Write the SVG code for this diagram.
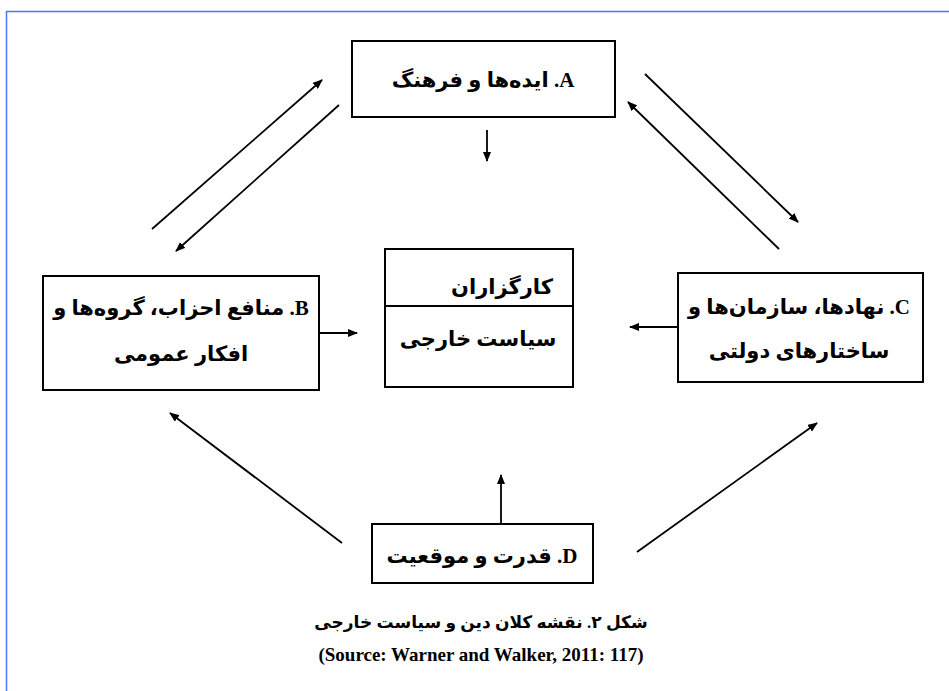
<svg xmlns="http://www.w3.org/2000/svg" width="949" height="691" viewBox="0 0 949 691">
<defs>
<style>
.box{fill:#fff;stroke:#000;stroke-width:2}
.t{font-family:"Liberation Serif","DejaVu Sans",serif;font-weight:bold;font-size:21px;fill:#000}
.cap{font-family:"Liberation Serif","DejaVu Sans",serif;font-weight:bold;font-size:17px;fill:#000}
.src{font-family:"Liberation Serif",serif;font-weight:bold;font-size:19px;fill:#000}
.c line{stroke:#000;stroke-width:1.8;marker-end:url(#ah)}
</style>
<marker id="ah" markerUnits="userSpaceOnUse" markerWidth="10" markerHeight="8" refX="9" refY="4" orient="auto">
<path d="M0,0 L10,4 L0,8 z" fill="#000"/>
</marker>
</defs>
<rect width="949" height="691" fill="#fff"/>
<path d="M6.5,691 V11.5 H949" fill="none" stroke="#4a78ff" stroke-width="1.5"/>
<g id="nodeA">
<rect class="box" x="352" y="41" width="263" height="76"/>
<text class="t" x="483" y="87" text-anchor="middle" direction="rtl">A. ایده‌ها و فرهنگ</text>
</g>
<g id="nodeB">
<rect class="box" x="43" y="276" width="276" height="114"/>
<text class="t" x="181" y="315" text-anchor="middle" direction="rtl">B. منافع احزاب، گروه‌ها و</text>
<text class="t" x="181" y="361" text-anchor="middle" direction="rtl">افکار عمومی</text>
</g>
<g id="nodeCenter">
<rect class="box" x="385" y="249" width="188" height="138"/>
<line x1="385" y1="306" x2="573" y2="306" stroke="#000" stroke-width="2"/>
<text class="t" x="502" y="294" text-anchor="middle" direction="rtl">کارگزاران</text>
<text class="t" x="478" y="346" text-anchor="middle" direction="rtl">سیاست خارجی</text>
</g>
<g id="nodeC">
<rect class="box" x="678" y="273" width="245" height="109"/>
<text class="t" x="799" y="314" text-anchor="middle" direction="rtl">C. نهادها، سازمان‌ها و</text>
<text class="t" x="799" y="358" text-anchor="middle" direction="rtl">ساختارهای دولتی</text>
</g>
<g id="nodeD">
<rect class="box" x="372" y="524" width="221" height="59"/>
<text class="t" x="482" y="563" text-anchor="middle" direction="rtl">D. قدرت و موقعیت</text>
</g>
<g id="connectors" class="c">
<line x1="487" y1="130" x2="487" y2="161"/>
<line x1="320" y1="333" x2="357" y2="333"/>
<line x1="677" y1="327" x2="630" y2="327"/>
<line x1="501" y1="524" x2="501" y2="475"/>
<line x1="152" y1="229" x2="322" y2="80"/>
<line x1="339" y1="105" x2="176" y2="251"/>
<line x1="645" y1="74" x2="798" y2="222"/>
<line x1="779" y1="249" x2="628" y2="102"/>
<line x1="342" y1="543" x2="170" y2="413"/>
<line x1="637" y1="552" x2="817" y2="423"/>
</g>
<g id="caption">
<text class="cap" x="481" y="628" text-anchor="middle" direction="rtl">شکل ۲. نقشه کلان دین و سیاست خارجی</text>
<text class="src" x="481" y="661" text-anchor="middle">(Source: Warner and Walker, 2011: 117)</text>
</g>
</svg>
